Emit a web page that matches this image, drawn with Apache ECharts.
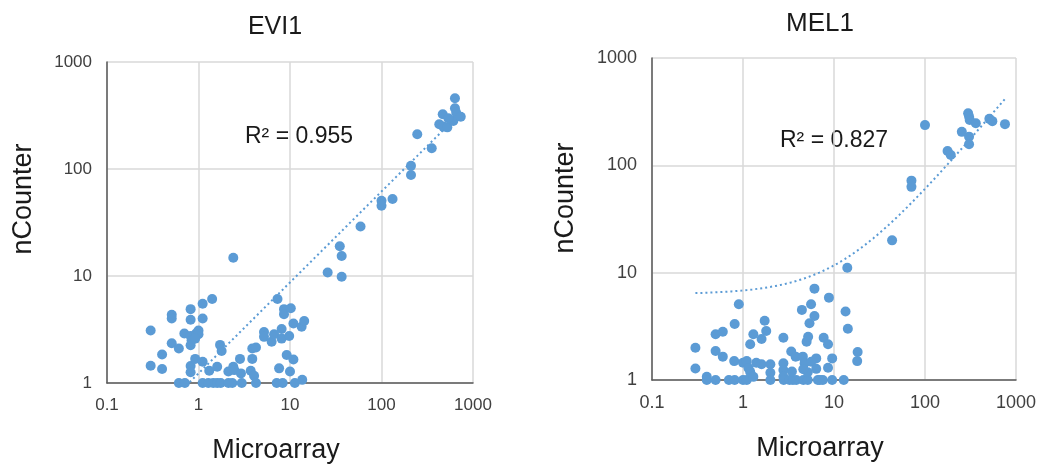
<!DOCTYPE html>
<html>
<head>
<meta charset="utf-8">
<title>EVI1 / MEL1</title>
<script src="https://cdn.jsdelivr.net/npm/echarts@6/dist/echarts.min.js"></script>
<style>
html, body { margin: 0; padding: 0; background: #fff; }
#main { width: 1039px; height: 464px; }
</style>
</head>
<body>
<div id="main"></div>
<script>
// EVI1 : microarray vs nCounter
var evi1Microarray = [0.3, 0.3, 0.4, 0.4, 0.51, 0.51, 0.51, 0.61, 0.61, 0.71,
  0.7, 0.82, 0.82, 0.82, 0.84, 0.82, 0.82, 0.82, 0.92, 0.94,
  1.0, 1.0, 0.92, 1.11, 1.11, 1.11, 1.11, 1.28, 1.41, 1.31,
  1.45, 1.6, 1.75, 1.6, 1.72, 1.79, 2.12, 2.12, 2.34, 2.4,
  2.46, 2.4, 2.84, 2.91, 2.97, 3.87, 4.25, 3.87, 3.72, 4.05,
  4.25, 5.2, 5.2, 6.3, 6.7, 7.3, 7.6, 7.16, 8.32, 8.1,
  8.1, 8.6, 8.6, 10.2, 9.2, 9.8, 10, 10.9, 10.9, 11.3,
  13.4, 14.3, 13.6, 25.8, 35, 36.7, 36.7, 59, 100, 100,
  132, 210, 210, 246, 354, 428, 467, 474, 524, 609,
  635, 635, 655, 735, 537];
var evi1Ncounter = [3.1, 1.45, 1.85, 1.35, 4.35, 4.0, 2.35, 2.1, 1, 1,
  2.9, 4.9, 3.9, 2.75, 2.5, 2.25, 1.44, 1.26, 1.68, 2.9,
  3.1, 2.85, 2.6, 5.5, 4.0, 1.58, 1, 1, 6.1, 1.3,
  1, 1, 1, 1.42, 2.27, 1.99, 1.28, 1, 1, 1.42,
  1.32, 14.8, 1.68, 1.23, 1, 2.1, 2.15, 1.68, 1.3, 1.17,
  1, 3.0, 2.7, 2.43, 2.85, 6.1, 1.37, 1, 1, 3.2,
  2.6, 4.9, 4.4, 5.0, 1.83, 2.75, 1.28, 3.6, 1.66, 1,
  3.35, 3.8, 1.07, 10.8, 19, 15.4, 9.85, 29, 50.5, 45.3,
  52.5, 107, 88, 211, 156, 262, 325, 249, 245, 281,
  458, 369, 336, 308, 298];
// power trendline shown on the EVI1 panel: y = a * x^b
var evi1TrendA = 1.23;
var evi1TrendB = 0.85;

// MEL1 : microarray vs nCounter
var mel1Microarray = [0.3, 0.3, 0.4, 0.4, 0.5, 0.5, 0.5, 0.6, 0.6, 0.7,
  0.81, 0.81, 0.8, 0.9, 1.0, 1.1, 1.0, 1.1, 1.15, 1.2,
  1.2, 1.3, 1.3, 1.4, 1.6, 1.6, 1.73, 1.8, 2.0, 2.0,
  2.0, 2.78, 2.78, 2.78, 2.78, 2.8, 3.25, 3.54, 3.85, 3.39,
  3.45, 3.79, 4.55, 4.75, 4.44, 5.6, 5.0, 5.2, 5.38, 4.6,
  5.15, 5.15, 6.1, 6.1, 8.8, 7.7, 8.6, 9.55, 8.6, 6.38,
  5.62, 6.38, 4.6, 6.65, 7.0, 7.54, 9.55, 12.8, 13.4, 14.2,
  14, 18.2, 18, 43.5, 71, 71, 100, 177, 192, 254,
  298, 305, 310, 362, 305, 305, 510, 550, 757];
var mel1Ncounter = [2.0, 1.28, 1.07, 1, 2.67, 1.86, 1, 2.82, 1.65, 1,
  1, 3.33, 1.5, 5.07, 1, 1, 1.45, 1.5, 1.29, 1.19,
  2.15, 2.67, 1.07, 1.45, 1.4, 2.41, 3.57, 2.86, 1.4, 1.17,
  1, 2.48, 1.43, 1.24, 1.07, 1, 1, 1, 1, 1.84,
  1.2, 1.65, 1.65, 1.43, 4.5, 5.07, 2.27, 2.53, 3.38, 1,
  1, 1.18, 7.1, 3.95, 5.85, 2.48, 2.15, 1.59, 1.3, 1.59,
  1.48, 1.27, 1.26, 1, 1, 1, 1, 1, 4.35, 3.0,
  11.1, 1.82, 1.5, 20, 72, 63, 237, 136, 125, 205,
  306, 285, 265, 247, 185, 157, 271, 258, 242];

var chartTitles = ["EVI1", "MEL1"];
var r2Texts = ["R² = 0.955", "R² = 0.827"];
var axisNameX = "Microarray";
var axisNameY = "nCounter";

var blue = "#5b9bd5";
var fontName = "'Liberation Sans', Arial, sans-serif";

function pairs(xs, ys) {
  var out = [];
  for (var i = 0; i < xs.length; i++) out.push([xs[i], ys[i]]);
  return out;
}

function powerFn(a, b) {
  return function (x) { return a * Math.pow(x, b); };
}

// linear trendline y = a + b x (least squares, like Excel)
function linearFit(xs, ys) {
  var n = xs.length, sx = 0, sy = 0, sxx = 0, sxy = 0;
  for (var i = 0; i < n; i++) {
    sx += xs[i]; sy += ys[i]; sxx += xs[i] * xs[i]; sxy += xs[i] * ys[i];
  }
  var b = (n * sxy - sx * sy) / (n * sxx - sx * sx);
  var a = (sy - b * sx) / n;
  return function (x) { return a + b * x; };
}

function trendLine(xs, fn) {
  var lo = Math.log10(Math.min.apply(null, xs));
  var hi = Math.log10(Math.max.apply(null, xs));
  var out = [];
  for (var k = 0; k <= 120; k++) {
    var x = Math.pow(10, lo + (hi - lo) * k / 120);
    out.push([x, fn(x)]);
  }
  return out;
}

function plainNum(v) {
  return String(Math.round(v * 1000) / 1000);
}

function makeX(idx, fs, margin) {
  return {
    type: "log", logBase: 10, gridIndex: idx, min: 0.1, max: 1000,
    axisLine: { show: true, lineStyle: { color: "#595959", width: 1.5 } },
    axisTick: { show: false },
    axisLabel: { fontSize: fs, color: "#404040", margin: margin, fontFamily: fontName, formatter: plainNum },
    splitLine: { show: true, lineStyle: { color: "#d9d9d9", width: 1.5 } }
  };
}

function makeY(idx, fs) {
  return {
    type: "log", logBase: 10, gridIndex: idx, min: 1, max: 1000,
    axisLine: { show: true, lineStyle: { color: "#595959", width: 1.5 } },
    axisTick: { show: false },
    axisLabel: { fontSize: fs, color: "#404040", margin: 15, fontFamily: fontName, formatter: plainNum },
    splitLine: { show: true, lineStyle: { color: "#d9d9d9", width: 1.5 } }
  };
}

function textEl(x, y, txt, size, rot) {
  return {
    type: "text", x: x, y: y, rotation: rot || 0,
    style: {
      text: txt, fontSize: size, fontFamily: fontName, fill: "#1a1a1a",
      align: "center", verticalAlign: "middle",
      textAlign: "center", textVerticalAlign: "middle"
    }
  };
}

var myChart = echarts.init(document.getElementById("main"));
myChart.setOption({
  animation: false,
  backgroundColor: "#fff",
  grid: [
    { left: 107, top: 62, width: 366, height: 321 },
    { left: 652, top: 58, width: 365, height: 322 }
  ],
  xAxis: [makeX(0, 17, 14), makeX(1, 18, 14)],
  yAxis: [makeY(0, 17), makeY(1, 18)],
  graphic: [
    textEl(275, 27, chartTitles[0], 25),
    textEl(820, 24, chartTitles[1], 26),
    textEl(299, 137, r2Texts[0], 23),
    textEl(834, 141, r2Texts[1], 23),
    textEl(276, 451, axisNameX, 27),
    textEl(820, 449, axisNameX, 27),
    textEl(24, 199, axisNameY, 27, Math.PI / 2),
    textEl(566, 198, axisNameY, 27, Math.PI / 2)
  ],
  series: [
    {
      type: "scatter", xAxisIndex: 0, yAxisIndex: 0,
      data: pairs(evi1Microarray, evi1Ncounter),
      symbolSize: 10, itemStyle: { color: blue, opacity: 1 }, z: 3
    },
    {
      type: "line", xAxisIndex: 0, yAxisIndex: 0,
      data: trendLine(evi1Microarray, powerFn(evi1TrendA, evi1TrendB)),
      showSymbol: false, smooth: false, clip: true,
      lineStyle: { color: blue, width: 2, type: [2, 3] }, z: 2
    },
    {
      type: "scatter", xAxisIndex: 1, yAxisIndex: 1,
      data: pairs(mel1Microarray, mel1Ncounter),
      symbolSize: 10, itemStyle: { color: blue, opacity: 1 }, z: 3
    },
    {
      type: "line", xAxisIndex: 1, yAxisIndex: 1,
      data: trendLine(mel1Microarray, linearFit(mel1Microarray, mel1Ncounter)),
      showSymbol: false, smooth: false, clip: true,
      lineStyle: { color: blue, width: 2, type: [2, 3] }, z: 2
    }
  ]
});
</script>
</body>
</html>
